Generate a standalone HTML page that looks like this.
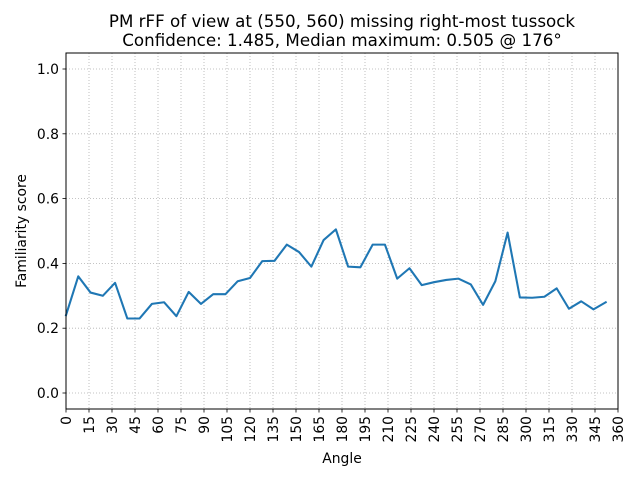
<!DOCTYPE html>
<html><head><meta charset="utf-8"><style>
body{margin:0;background:#fff;}
svg{font-family:"DejaVu Sans","Liberation Sans",sans-serif;}
</style></head><body>
<svg id="chart" width="640" height="480" viewBox="0 0 640 480">
<rect width="640" height="480" fill="#fff"/>
<text x="342" y="27" font-size="16.7" text-anchor="middle">PM rFF of view at (550, 560) missing right-most tussock</text>
<text x="342" y="46" font-size="16.7" text-anchor="middle">Confidence: 1.485, Median maximum: 0.505 @ 176°</text>
<g id="grid"></g>
<g id="ticks"></g>
<g id="series"></g>
<rect x="66" y="53" width="552" height="356" fill="none" stroke="#000" stroke-width="1"/>
<text x="342" y="463" font-size="13.9" text-anchor="middle">Angle</text>
<text x="26" y="231" font-size="13.9" text-anchor="middle" transform="rotate(-90 26 231)">Familiarity score</text>
</svg>
<script>
const angles=[0,8,16,24,32,40,48,56,64,72,80,88,96,104,112,120,128,136,144,152,160,168,176,184,192,200,208,216,224,232,240,248,256,264,272,280,288,296,304,312,320,328,336,344,352];
const scores=[0.24,0.36,0.31,0.30,0.34,0.23,0.23,0.275,0.28,0.237,0.312,0.275,0.305,0.305,0.345,0.355,0.407,0.408,0.458,0.435,0.39,0.472,0.505,0.39,0.388,0.458,0.458,0.353,0.385,0.333,0.342,0.349,0.353,0.335,0.272,0.345,0.495,0.295,0.294,0.297,0.323,0.26,0.283,0.258,0.28];
const xTicks=[0,15,30,45,60,75,90,105,120,135,150,165,180,195,210,225,240,255,270,285,300,315,330,345,360];
const yTicks=[0.0,0.2,0.4,0.6,0.8,1.0];
const NS='http://www.w3.org/2000/svg';
const X0=66,X1=618,Y0=393,Y1=69;
function sx(a){return X0+(a/360)*(X1-X0);}
function sy(v){return Y0-v*(Y0-Y1);}
const grid=document.getElementById('grid'),ticks=document.getElementById('ticks'),series=document.getElementById('series');
function mk(tag,attrs,parent){const e=document.createElementNS(NS,tag);for(const k in attrs)e.setAttribute(k,attrs[k]);parent.appendChild(e);return e;}
xTicks.forEach(t=>{
 const x=sx(t);
 const g=mk('line',{x1:x,x2:x,y1:53,y2:409,stroke:'#b0b0b0','stroke-width':0.8,'stroke-dasharray':'1,2'},grid);
 
 
 mk('line',{x1:x,x2:x,y1:409,y2:412.5,stroke:'#000','stroke-width':0.8},ticks);
 const tx=mk('text',{x:x+5,y:416,'font-size':13.9,'text-anchor':'end',transform:`rotate(-90 ${x+5} 416)`},ticks);
 tx.textContent=t;
 
 
});
yTicks.forEach(t=>{
 const y=sy(t);
 const g=mk('line',{x1:66,x2:618,y1:y,y2:y,stroke:'#b0b0b0','stroke-width':0.8,'stroke-dasharray':'1,2'},grid);
 
 
 mk('line',{x1:62.5,x2:66,y1:y,y2:y,stroke:'#000','stroke-width':0.8},ticks);
 const tx=mk('text',{x:59,y:y+5,'font-size':13.9,'text-anchor':'end'},ticks);
 tx.textContent=t.toFixed(1);
 
 
});
const pts=angles.map((a,i)=>sx(a).toFixed(2)+','+sy(scores[i]).toFixed(2)).join(' ');
const pl=mk('polyline',{points:pts,fill:'none',stroke:'#1f77b4','stroke-width':2.08,'stroke-linejoin':'round','stroke-linecap':'square'},series);


</script>
</body></html>
